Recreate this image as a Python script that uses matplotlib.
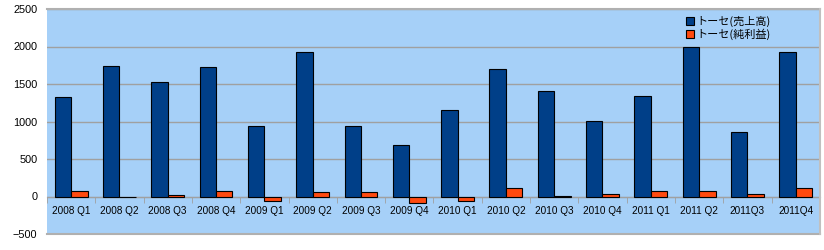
import matplotlib
matplotlib.use("Agg")
import matplotlib.pyplot as plt
import numpy as np

categories = ["2008 Q1", "2008 Q2", "2008 Q3", "2008 Q4", "2009 Q1", "2009 Q2",
              "2009 Q3", "2009 Q4", "2010 Q1", "2010 Q2", "2010 Q3", "2010 Q4",
              "2011 Q1", "2011 Q2", "2011Q3", "2011Q4"]
sales = [1332, 1740, 1527, 1722, 943, 1925, 939, 687, 1150, 1700, 1408, 1009,
         1337, 1992, 863, 1925]
profit = [80, -5, 15, 80, -57, 62, 62, -89, -57, 120, 10, 40, 80, 80, 27, 120]
series_names = ["トーセ(売上高)", "トーセ(純利益)"]
yticks = [-500, 0, 500, 1000, 1500, 2000, 2500]

plt.rcParams['font.family'] = ['Liberation Sans', 'Noto Sans CJK JP']

fig = plt.figure(figsize=(8.24, 2.5), dpi=100)
ax = fig.add_axes([0.057, 0.064, 0.938, 0.9])
ax.set_facecolor("#a6d0f8")

x = np.arange(len(categories))
w = 0.34
ax.bar(x - w/2, sales, w, color="#003f88", edgecolor="black", linewidth=0.8,
       label=series_names[0], zorder=3)
ax.bar(x + w/2, profit, w, color="#ff4a0f", edgecolor="black", linewidth=0.8,
       label=series_names[1], zorder=3)

ax.set_xlim(-0.5, len(categories) - 0.5)
ax.set_ylim(-500, 2500)
ax.set_yticks(yticks)
ax.yaxis.grid(True, color="#a0a0a0", linewidth=1, zorder=1)
for yv in (yticks[0], yticks[-1]):
    ax.axhline(yv, color="#b0b0b0", linewidth=1.5, clip_on=False, zorder=2)
ax.tick_params(axis='y', length=0, labelsize=7.8, pad=7)

# x axis along zero line
ax.spines['bottom'].set_position(('data', 0))
ax.spines['bottom'].set_color("#a0a0a0")
ax.spines['bottom'].set_zorder(2)
ax.set_xticks(x)
ax.set_xticklabels(categories)
ax.set_xticks(np.arange(len(categories) + 1) - 0.5, minor=True)
ax.tick_params(axis='x', which='major', length=0, labelsize=7.2, pad=7)
ax.tick_params(axis='x', which='minor', length=4, color="#a0a0a0", direction='out')
for s in ['top', 'left']:
    ax.spines[s].set_visible(False)
ax.spines['right'].set_color("#c0c0c0")
ax.spines['right'].set_linewidth(1.5)

leg = ax.legend(loc='upper right', bbox_to_anchor=(0.945, 1.0), frameon=False,
                prop={'family': ['Noto Sans CJK JP'], 'size': 8},
                handlelength=0.7, handleheight=0.7, handletextpad=0.2,
                labelspacing=0.15, borderaxespad=0.2)

fig.savefig("out.png", dpi=100)
